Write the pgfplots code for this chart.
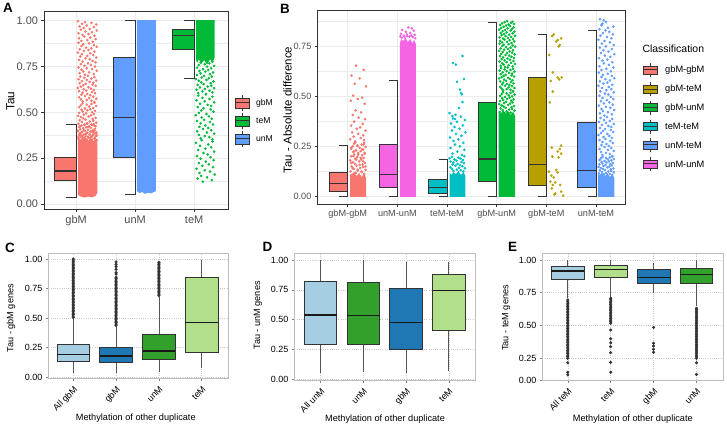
\documentclass[border=0pt]{standalone}
\usepackage{fontspec}
\setmainfont{Liberation Sans}
\usepackage{pgfplots}
\pgfplotsset{compat=1.18}
\definecolor{grey20}{HTML}{333333}
\definecolor{grey30}{HTML}{4D4D4D}
\definecolor{grey92}{HTML}{EBEBEB}
\definecolor{cRed}{HTML}{F8766D}
\definecolor{cOlive}{HTML}{B79F00}
\definecolor{cGreen}{HTML}{00BA38}
\definecolor{cCyan}{HTML}{00BFC4}
\definecolor{cBlue}{HTML}{619CFF}
\definecolor{cPink}{HTML}{F564E3}
\definecolor{pLB}{HTML}{A6CEE3}
\definecolor{pDB}{HTML}{1F78B4}
\definecolor{pLG}{HTML}{B2DF8A}
\definecolor{pDG}{HTML}{33A02C}
\definecolor{frameC}{HTML}{BDBDBD}
\definecolor{gridC}{HTML}{C8C8C8}
\definecolor{whisC}{HTML}{555555}
\definecolor{outC}{HTML}{333333}
\pgfplotsset{
 ggA/.style={scale only axis, anchor=south west,
   ymajorgrids, xmajorgrids, yminorgrids,
   major grid style={grey92, line width=0.55bp},
   minor grid style={grey92, line width=0.3bp},
   axis line style={grey20, line width=0.6bp},
   xtick pos=bottom, ytick pos=left, tick align=outside,
   major tick length=2.8bp, minor tick length=0bp,
   major tick style={grey20, line width=0.5bp},
   minor tick style={draw=none},
   ylabel style={anchor=center},
   /pgf/number format/assume math mode=true},
 ggC/.style={scale only axis, anchor=south west,
   ymajorgrids, xmajorgrids,
   major grid style={gridC, line width=0.5bp, dash pattern=on 0.6bp off 1.6bp},
   axis line style={frameC, line width=0.8bp},
   xtick pos=bottom, ytick pos=left, tick align=outside, major tick length=2.5bp,
   major tick style={frameC!70!black, line width=0.5bp},
   tick label style={font=\fontsize{9}{10}\selectfont, text=black},
   xticklabel style={rotate=45, anchor=north east},
   label style={font=\fontsize{9.2}{10}\selectfont},
   ylabel style={anchor=center},
   xlabel style={anchor=center},
   xtick={1,2,3,4},
   ytick={0,0.25,0.5,0.75,1}, yticklabels={0.00,0.25,0.50,0.75,1.00},
   xlabel={Methylation of other duplicate},
   /pgf/number format/assume math mode=true},
 jit/.style={only marks, mark=*, mark size=1.1bp, #1, mark options={draw=none}},
 outl/.style={only marks, mark=*, mark size=1.35bp, outC, mark options={draw=none}},
 boxA/.style={fill=#1, draw=grey20, line width=0.6bp},
 medA/.style={grey20, line width=1.3bp},
 whA/.style={grey20, line width=0.6bp},
 boxC/.style={fill=#1, draw=grey20, line width=0.6bp},
 medC/.style={black!90, line width=1.2bp},
 whC/.style={whisC, line width=0.7bp},
}
\newcommand{\legkey}[4]{%
  \draw[grey20, line width=0.5bp] ({#1bp+7bp},{#2bp-#4bp-3bp}) -- ({#1bp+7bp},{#2bp+#4bp+3bp});
  \filldraw[fill=#3, draw=grey20, line width=0.5bp] (#1bp,{#2bp-#4bp}) rectangle ({#1bp+14bp},{#2bp+#4bp});
  \draw[grey20, line width=1bp] (#1bp,#2bp) -- ({#1bp+14bp},#2bp);
}
\begin{document}
\begin{tikzpicture}
\useasboundingbox (0,0) rectangle (727bp,426bp);
% ================= A =================
\begin{axis}[ggA, at={(44.3bp,216.7bp)}, width=184bp, height=197.6bp,
  xmin=0.46, xmax=3.58, ymin=-0.029, ymax=1.049,
  xtick={1,2,3}, xticklabels={gbM,unM,teM},
  ytick={0,0.25,0.5,0.75,1}, yticklabels={0.00,0.25,0.50,0.75,1.00},
  minor ytick={0.125,0.375,0.625,0.875},
  tick label style={font=\fontsize{11}{12}\selectfont, text=grey30},
  ylabel={Tau}, ylabel style={font=\fontsize{11.8}{13}\selectfont, at={(axis description cs:-0.184,0.548)}}]
% gbM
\addplot[whA] coordinates {(0.83,0.435)(1,0.435)(1,0.035)(0.83,0.035)};
\addplot[boxA=cRed] coordinates {(0.63,0.13)(1,0.13)(1,0.255)(0.63,0.255)} -- cycle;
\addplot[medA] coordinates {(0.63,0.18)(1,0.18)};
\addplot[fill=cRed, draw=none] coordinates {(1.03,0.05)(1.08,0.04)(1.14,0.035)(1.20,0.04)(1.27,0.036)(1.33,0.045)(1.36,0.06)(1.36,0.33)(1.33,0.355)(1.29,0.34)(1.24,0.36)(1.19,0.335)(1.14,0.365)(1.09,0.345)(1.05,0.355)(1.03,0.33)} -- cycle;
\addplot[jit=cRed] coordinates {
(1.28,0.340)(1.09,0.343)(1.19,0.345)(1.33,0.348)(1.05,0.350)(1.24,0.353)(1.14,0.355)(1.31,0.358)(1.11,0.360)(1.21,0.363)
(1.04,0.365)(1.27,0.368)(1.16,0.370)(1.35,0.373)(1.08,0.375)(1.23,0.378)(1.13,0.380)(1.30,0.383)(1.06,0.385)(1.18,0.388)
(1.34,0.390)(1.10,0.393)(1.26,0.395)(1.15,0.398)(1.03,0.400)(1.29,0.403)(1.20,0.405)(1.07,0.408)(1.32,0.410)(1.12,0.413)
(1.25,0.415)(1.17,0.418)(1.05,0.420)(1.22,0.423)(1.33,0.425)(1.09,0.428)(1.27,0.430)(1.14,0.433)(1.30,0.435)(1.19,0.438)
(1.15,0.335)(1.30,0.337)(1.06,0.340)(1.22,0.342)(1.12,0.344)(1.35,0.347)(1.09,0.349)(1.27,0.351)(1.18,0.353)(1.04,0.356)
(1.32,0.358)(1.14,0.360)(1.25,0.363)(1.08,0.365)(1.20,0.367)(1.33,0.370)(1.11,0.372)(1.28,0.374)(1.05,0.376)(1.23,0.379)
(1.16,0.381)(1.34,0.383)(1.07,0.386)(1.19,0.388)(1.29,0.390)(1.10,0.393)(1.24,0.395)(1.03,0.397)(1.31,0.399)(1.13,0.402)
(1.20,0.420)(1.07,0.424)(1.31,0.427)(1.14,0.431)(1.26,0.433)(1.04,0.437)(1.18,0.441)(1.34,0.443)(1.10,0.447)(1.23,0.450)
(1.29,0.454)(1.06,0.457)(1.16,0.460)(1.28,0.464)(1.12,0.467)(1.33,0.470)(1.08,0.474)(1.21,0.477)(1.03,0.480)(1.25,0.484)
(1.13,0.487)(1.30,0.490)(1.17,0.494)(1.05,0.497)(1.27,0.500)(1.11,0.504)(1.32,0.507)(1.19,0.511)(1.09,0.514)(1.24,0.517)
(1.15,0.521)(1.29,0.524)(1.05,0.528)(1.22,0.531)(1.34,0.535)(1.08,0.538)(1.18,0.542)(1.26,0.545)(1.11,0.549)(1.31,0.552)
(1.31,0.556)(1.11,0.560)(1.26,0.563)(1.18,0.567)(1.08,0.571)(1.34,0.574)(1.22,0.578)(1.05,0.582)(1.29,0.585)(1.15,0.589)
(1.24,0.593)(1.09,0.596)(1.19,0.600)(1.32,0.604)(1.11,0.607)(1.27,0.611)(1.05,0.615)(1.17,0.618)(1.30,0.622)(1.13,0.626)
(1.25,0.629)(1.03,0.633)(1.21,0.637)(1.08,0.640)(1.33,0.644)(1.12,0.648)(1.28,0.651)(1.16,0.655)(1.06,0.659)(1.29,0.662)
(1.23,0.666)(1.10,0.670)(1.34,0.673)(1.18,0.677)(1.04,0.681)(1.26,0.684)(1.14,0.688)(1.31,0.692)(1.07,0.695)(1.20,0.699)
(1.15,0.705)(1.30,0.709)(1.06,0.714)(1.22,0.718)(1.12,0.723)(1.35,0.727)(1.09,0.732)(1.27,0.736)(1.18,0.741)(1.04,0.745)
(1.32,0.750)(1.14,0.754)(1.25,0.759)(1.08,0.763)(1.20,0.768)(1.33,0.772)(1.11,0.777)(1.28,0.781)(1.05,0.786)(1.23,0.790)
(1.16,0.795)(1.34,0.799)(1.07,0.804)(1.19,0.808)(1.29,0.813)(1.10,0.817)(1.24,0.822)(1.03,0.826)(1.31,0.831)(1.13,0.835)
(1.21,0.840)(1.06,0.844)(1.26,0.849)(1.17,0.853)(1.35,0.858)(1.09,0.862)(1.30,0.867)(1.12,0.871)(1.22,0.876)(1.04,0.880)
(1.28,0.885)(1.09,0.890)(1.19,0.894)(1.33,0.899)(1.05,0.904)(1.24,0.908)(1.14,0.913)(1.31,0.918)(1.11,0.922)(1.21,0.927)
(1.04,0.932)(1.27,0.937)(1.16,0.941)(1.35,0.946)(1.08,0.951)(1.23,0.955)(1.13,0.960)(1.30,0.965)(1.06,0.969)(1.18,0.974)
(1.34,0.979)(1.10,0.983)(1.26,0.988)(1.15,0.993)(1.03,0.997)};
% unM
\addplot[whA] coordinates {(1.83,1.0)(2,1.0)(2,0.055)(1.83,0.055)};
\addplot[boxA=cBlue] coordinates {(1.63,0.255)(2,0.255)(2,0.80)(1.63,0.80)} -- cycle;
\addplot[medA] coordinates {(1.63,0.47)(2,0.47)};
\addplot[fill=cBlue, draw=none] coordinates {(2.03,0.07)(2.07,0.06)(2.12,0.065)(2.17,0.055)(2.22,0.062)(2.27,0.058)(2.32,0.066)(2.35,0.07)(2.35,1.003)(2.03,1.003)} -- cycle;
% teM
\addplot[whA] coordinates {(2.83,1.0)(3,1.0)(3,0.685)(2.83,0.685)};
\addplot[boxA=cGreen] coordinates {(2.63,0.845)(3,0.845)(3,0.955)(2.63,0.955)} -- cycle;
\addplot[medA] coordinates {(2.63,0.92)(3,0.92)};
\addplot[fill=cGreen, draw=none] coordinates {(3.03,1.003)(3.35,1.003)(3.35,0.80)(3.31,0.77)(3.27,0.79)(3.22,0.76)(3.17,0.785)(3.12,0.765)(3.08,0.79)(3.05,0.77)(3.03,0.79)} -- cycle;
\addplot[jit=cGreen] coordinates {
(3.20,0.600)(3.07,0.605)(3.31,0.609)(3.14,0.614)(3.26,0.618)(3.04,0.623)(3.18,0.627)(3.34,0.632)(3.10,0.636)(3.23,0.641)
(3.29,0.645)(3.06,0.650)(3.16,0.654)(3.28,0.659)(3.12,0.663)(3.33,0.668)(3.08,0.672)(3.21,0.677)(3.03,0.681)(3.25,0.686)
(3.13,0.690)(3.30,0.695)(3.17,0.699)(3.05,0.704)(3.27,0.708)(3.11,0.713)(3.32,0.717)(3.19,0.722)(3.09,0.726)(3.24,0.731)
(3.15,0.735)(3.29,0.740)(3.05,0.744)(3.22,0.749)(3.34,0.753)(3.08,0.758)(3.18,0.762)(3.26,0.767)(3.11,0.771)(3.31,0.776)
(3.31,0.352)(3.11,0.358)(3.26,0.365)(3.18,0.371)(3.08,0.377)(3.34,0.384)(3.22,0.390)(3.05,0.396)(3.29,0.402)(3.15,0.409)
(3.24,0.415)(3.09,0.421)(3.19,0.428)(3.32,0.434)(3.11,0.440)(3.27,0.447)(3.05,0.453)(3.17,0.459)(3.30,0.465)(3.13,0.472)
(3.25,0.478)(3.03,0.484)(3.21,0.491)(3.08,0.497)(3.33,0.503)(3.12,0.510)(3.28,0.516)(3.16,0.522)(3.06,0.529)(3.29,0.535)
(3.23,0.541)(3.10,0.547)(3.34,0.554)(3.18,0.560)(3.04,0.566)(3.26,0.573)(3.14,0.579)(3.31,0.585)(3.07,0.592)(3.20,0.598)
(3.15,0.122)(3.30,0.130)(3.06,0.138)(3.22,0.145)(3.12,0.153)(3.35,0.161)(3.09,0.169)(3.27,0.177)(3.18,0.184)(3.04,0.192)
(3.32,0.200)(3.14,0.208)(3.25,0.216)(3.08,0.223)(3.20,0.231)(3.33,0.239)(3.11,0.247)(3.28,0.255)(3.05,0.262)(3.23,0.270)
(3.16,0.278)(3.34,0.286)(3.07,0.294)(3.19,0.302)(3.29,0.309)(3.10,0.317)(3.24,0.325)(3.03,0.333)(3.31,0.341)(3.13,0.348)};
\end{axis}
% ================= B =================
\begin{axis}[ggA, at={(317.7bp,222bp)}, width=307.3bp, height=194bp,
  xmin=0.395, xmax=6.585, ymin=-0.04, ymax=0.93,
  xtick={1,2,3,4,5,6}, xticklabels={gbM-gbM,unM-unM,teM-teM,gbM-unM,gbM-teM,unM-teM},
  ytick={0,0.25,0.5,0.75}, yticklabels={0.00,0.25,0.50,0.75},
  minor ytick={0.125,0.375,0.625,0.875},
  tick label style={font=\fontsize{9.2}{10}\selectfont, text=grey30},
  ylabel={Tau - Absolute difference}, ylabel style={font=\fontsize{11.5}{13}\selectfont, at={(axis description cs:-0.098,0.485)}}]
% 1 gbM-gbM
\addplot[whA] coordinates {(0.83,0.255)(1,0.255)(1,0)(0.83,0)};
\addplot[boxA=cRed] coordinates {(0.63,0.025)(1,0.025)(1,0.117)(0.63,0.117)} -- cycle;
\addplot[medA] coordinates {(0.63,0.063)(1,0.063)};
\addplot[fill=cRed, draw=none] coordinates {(1.05,-0.004)(1.37,-0.004)(1.37,0.09)(1.33,0.11)(1.28,0.095)(1.23,0.115)(1.18,0.10)(1.13,0.12)(1.09,0.10)(1.05,0.11)} -- cycle;
\addplot[jit=cRed] coordinates {
(1.22,0.102)(1.09,0.106)(1.33,0.110)(1.16,0.115)(1.28,0.119)(1.06,0.123)(1.20,0.127)(1.36,0.131)(1.12,0.136)(1.25,0.140)
(1.31,0.144)(1.08,0.148)(1.18,0.152)(1.30,0.157)(1.14,0.161)(1.35,0.165)(1.10,0.169)(1.23,0.173)(1.05,0.178)(1.27,0.182)
(1.15,0.186)(1.32,0.190)(1.19,0.194)(1.07,0.199)(1.29,0.203)(1.13,0.207)(1.34,0.211)(1.21,0.215)(1.11,0.220)(1.26,0.224)
(1.17,0.228)(1.31,0.232)(1.07,0.236)(1.24,0.241)(1.36,0.245)(1.10,0.249)(1.20,0.253)(1.28,0.257)(1.13,0.262)(1.33,0.266)
(1.33,0.105)(1.13,0.114)(1.28,0.122)(1.20,0.131)(1.10,0.139)(1.36,0.148)(1.24,0.156)(1.07,0.165)(1.31,0.173)(1.17,0.182)
(1.26,0.190)(1.11,0.199)(1.21,0.207)(1.34,0.216)(1.13,0.224)(1.29,0.233)(1.07,0.241)(1.19,0.250)(1.32,0.258)(1.15,0.267)
(1.17,0.652)(1.32,0.631)(1.08,0.602)(1.24,0.588)(1.14,0.561)(1.37,0.548)(1.11,0.502)(1.29,0.492)(1.20,0.485)(1.06,0.476)
(1.34,0.461)(1.16,0.428)(1.27,0.418)(1.10,0.405)(1.22,0.392)(1.35,0.384)(1.13,0.372)(1.30,0.361)(1.07,0.352)(1.25,0.343)
(1.18,0.336)(1.36,0.327)(1.09,0.318)(1.21,0.311)(1.31,0.303)(1.12,0.297)(1.26,0.290)(1.05,0.284)(1.33,0.279)(1.15,0.273)};
% 2 unM-unM
\addplot[whA] coordinates {(1.83,0.578)(2,0.578)(2,0)(1.83,0)};
\addplot[boxA=cPink] coordinates {(1.63,0.042)(2,0.042)(2,0.258)(1.63,0.258)} -- cycle;
\addplot[medA] coordinates {(1.63,0.108)(2,0.108)};
\addplot[fill=cPink, draw=none] coordinates {(2.05,-0.004)(2.37,-0.004)(2.37,0.76)(2.34,0.78)(2.30,0.765)(2.26,0.785)(2.21,0.77)(2.16,0.79)(2.12,0.775)(2.08,0.785)(2.05,0.765)} -- cycle;
\addplot[jit=cPink] coordinates {(2.22,0.843)(2.29,0.838)(2.10,0.830)(2.33,0.826)(2.17,0.821)(2.26,0.815)(2.07,0.811)(2.35,0.806)(2.13,0.802)(2.20,0.799)(2.31,0.795)(2.09,0.792)(2.24,0.797)(2.36,0.789)(2.15,0.793)(2.28,0.802)(2.06,0.798)(2.19,0.808)};
% 3 teM-teM
\addplot[whA] coordinates {(2.83,0.183)(3,0.183)(3,0)(2.83,0)};
\addplot[boxA=cCyan] coordinates {(2.63,0.013)(3,0.013)(3,0.085)(2.63,0.085)} -- cycle;
\addplot[medA] coordinates {(2.63,0.042)(3,0.042)};
\addplot[fill=cCyan, draw=none] coordinates {(3.05,-0.004)(3.37,-0.004)(3.37,0.10)(3.33,0.12)(3.28,0.105)(3.23,0.125)(3.18,0.11)(3.13,0.12)(3.09,0.105)(3.05,0.115)} -- cycle;
\addplot[jit=cCyan] coordinates {
(3.33,0.122)(3.13,0.125)(3.28,0.128)(3.20,0.132)(3.10,0.135)(3.36,0.138)(3.24,0.141)(3.07,0.144)(3.31,0.148)(3.17,0.151)
(3.26,0.154)(3.11,0.157)(3.21,0.160)(3.34,0.164)(3.13,0.167)(3.29,0.170)(3.07,0.173)(3.19,0.176)(3.32,0.180)(3.15,0.183)
(3.27,0.186)(3.05,0.189)(3.23,0.192)(3.10,0.196)(3.35,0.199)
(3.30,0.205)(3.11,0.213)(3.21,0.222)(3.35,0.231)(3.07,0.240)(3.26,0.248)(3.16,0.257)(3.33,0.266)(3.13,0.275)(3.23,0.283)
(3.06,0.292)(3.29,0.301)(3.18,0.310)(3.37,0.318)(3.10,0.327)(3.25,0.336)(3.15,0.345)(3.32,0.353)(3.08,0.362)(3.20,0.371)
(3.36,0.380)(3.12,0.388)(3.28,0.397)(3.17,0.406)(3.05,0.415)
(3.31,0.700)(3.12,0.665)(3.18,0.657)(3.34,0.585)(3.20,0.571)(3.26,0.532)(3.28,0.515)(3.30,0.508)(3.31,0.470)(3.11,0.400)(3.16,0.385)(3.24,0.440)};
% 4 gbM-unM
\addplot[whA] coordinates {(3.83,0.87)(4,0.87)(4,0)(3.83,0)};
\addplot[boxA=cGreen] coordinates {(3.63,0.072)(4,0.072)(4,0.468)(3.63,0.468)} -- cycle;
\addplot[medA] coordinates {(3.63,0.185)(4,0.185)};
\addplot[fill=cGreen, draw=none] coordinates {(4.04,-0.004)(4.37,-0.004)(4.37,0.40)(4.33,0.42)(4.28,0.405)(4.23,0.425)(4.18,0.41)(4.13,0.43)(4.08,0.41)(4.04,0.42)} -- cycle;
\addplot[jit=cGreen] coordinates {
(4.22,0.405)(4.09,0.408)(4.33,0.411)(4.16,0.414)(4.28,0.417)(4.06,0.420)(4.20,0.423)(4.36,0.426)(4.12,0.429)(4.25,0.432)
(4.31,0.435)(4.08,0.438)(4.18,0.441)(4.30,0.444)(4.14,0.447)(4.35,0.450)(4.10,0.453)(4.23,0.456)(4.05,0.459)(4.27,0.462)
(4.15,0.465)(4.32,0.468)(4.19,0.471)(4.07,0.474)(4.29,0.477)(4.13,0.480)(4.34,0.483)(4.21,0.486)(4.11,0.489)(4.26,0.492)
(4.17,0.495)(4.31,0.498)(4.07,0.501)(4.24,0.504)(4.36,0.507)(4.10,0.510)(4.20,0.513)(4.28,0.516)(4.13,0.519)(4.33,0.522)
(4.33,0.525)(4.13,0.528)(4.28,0.531)(4.20,0.534)(4.10,0.537)(4.36,0.540)(4.24,0.543)(4.07,0.546)(4.31,0.549)(4.17,0.552)
(4.26,0.555)(4.11,0.558)(4.21,0.561)(4.34,0.564)(4.13,0.567)(4.29,0.570)(4.07,0.573)(4.19,0.576)(4.32,0.579)(4.15,0.582)
(4.27,0.585)(4.05,0.588)(4.23,0.591)(4.10,0.594)(4.35,0.597)(4.14,0.600)(4.30,0.603)(4.18,0.606)(4.08,0.609)(4.31,0.612)
(4.25,0.615)(4.12,0.618)(4.36,0.621)(4.20,0.624)(4.06,0.627)(4.28,0.630)(4.16,0.633)(4.33,0.636)(4.09,0.639)(4.22,0.642)
(4.17,0.645)(4.32,0.648)(4.08,0.651)(4.24,0.654)(4.14,0.657)(4.37,0.660)(4.11,0.663)(4.29,0.666)(4.20,0.669)(4.06,0.672)
(4.34,0.675)(4.16,0.678)(4.27,0.681)(4.10,0.684)(4.22,0.687)(4.35,0.690)(4.13,0.693)(4.30,0.696)(4.07,0.699)(4.25,0.702)
(4.18,0.705)(4.36,0.708)(4.09,0.711)(4.21,0.714)(4.31,0.717)(4.12,0.720)(4.26,0.723)(4.05,0.726)(4.33,0.729)(4.15,0.732)
(4.23,0.735)(4.08,0.738)(4.28,0.741)(4.19,0.744)(4.37,0.747)(4.11,0.750)(4.32,0.753)(4.14,0.756)(4.24,0.759)(4.06,0.762)
(4.30,0.765)(4.11,0.768)(4.21,0.771)(4.35,0.773)(4.07,0.776)(4.26,0.779)(4.16,0.782)(4.33,0.785)(4.13,0.787)(4.23,0.790)
(4.06,0.793)(4.29,0.796)(4.18,0.799)(4.37,0.801)(4.10,0.804)(4.25,0.807)(4.15,0.810)(4.32,0.813)(4.08,0.815)(4.20,0.818)
(4.36,0.821)(4.12,0.824)(4.28,0.827)(4.17,0.829)(4.05,0.832)(4.31,0.835)(4.22,0.838)(4.09,0.841)(4.34,0.843)(4.14,0.846)
(4.27,0.849)(4.19,0.852)(4.07,0.855)(4.24,0.857)(4.35,0.860)(4.11,0.863)(4.29,0.866)(4.16,0.869)(4.32,0.871)(4.21,0.874)};
% 5 gbM-teM
\addplot[whA] coordinates {(4.83,0.81)(5,0.81)(5,0)(4.83,0)};
\addplot[boxA=cOlive] coordinates {(4.63,0.055)(5,0.055)(5,0.592)(4.63,0.592)} -- cycle;
\addplot[medA] coordinates {(4.63,0.158)(5,0.158)};
\addplot[jit=cOlive] coordinates {(5.15,0.808)(5.12,0.800)(5.23,0.780)(5.30,0.788)(5.20,0.772)(5.27,0.755)(5.25,0.748)(5.06,0.705)(5.13,0.618)(5.09,0.575)(5.23,0.592)(5.26,0.583)(5.31,0.593)(5.13,0.522)(5.07,0.468)(5.30,0.252)(5.11,0.242)(5.27,0.235)(5.23,0.222)(5.30,0.212)(5.12,0.197)(5.25,0.192)(5.05,0.122)(5.20,0.130)(5.23,0.118)(5.10,0.102)(5.15,0.092)(5.08,0.072)(5.18,0.068)(5.13,0.055)(5.11,0.038)(5.28,0.055)(5.30,0.022)(5.18,0.013)(5.34,0.002)(5.16,0.008)};
% 6 unM-teM
\addplot[whA] coordinates {(5.83,0.83)(6,0.83)(6,0)(5.83,0)};
\addplot[boxA=cBlue] coordinates {(5.63,0.045)(6,0.045)(6,0.368)(5.63,0.368)} -- cycle;
\addplot[medA] coordinates {(5.63,0.127)(6,0.127)};
\addplot[fill=cBlue, draw=none] coordinates {(6.04,-0.004)(6.37,-0.004)(6.37,0.09)(6.33,0.11)(6.28,0.095)(6.23,0.115)(6.18,0.10)(6.13,0.12)(6.08,0.10)(6.04,0.11)} -- cycle;
\addplot[jit=cBlue] coordinates {
(6.22,0.100)(6.09,0.103)(6.33,0.105)(6.16,0.108)(6.28,0.110)(6.06,0.113)(6.20,0.115)(6.36,0.118)(6.12,0.120)(6.25,0.123)
(6.31,0.125)(6.08,0.128)(6.18,0.130)(6.30,0.133)(6.14,0.135)(6.35,0.138)(6.10,0.140)(6.23,0.143)(6.05,0.145)(6.27,0.148)
(6.15,0.150)(6.32,0.153)(6.19,0.155)(6.07,0.158)(6.29,0.160)(6.13,0.163)(6.34,0.165)(6.21,0.168)(6.11,0.170)(6.26,0.173)
(6.17,0.175)(6.31,0.178)(6.07,0.180)(6.24,0.183)(6.36,0.185)(6.10,0.188)(6.20,0.190)(6.28,0.193)(6.13,0.195)(6.33,0.198)
(6.33,0.200)(6.13,0.205)(6.28,0.210)(6.20,0.215)(6.10,0.220)(6.36,0.225)(6.24,0.230)(6.07,0.235)(6.31,0.240)(6.17,0.245)
(6.26,0.250)(6.11,0.255)(6.21,0.260)(6.34,0.265)(6.13,0.270)(6.29,0.275)(6.07,0.280)(6.19,0.285)(6.32,0.290)(6.15,0.295)
(6.27,0.300)(6.05,0.305)(6.23,0.310)(6.10,0.315)(6.35,0.320)(6.14,0.325)(6.30,0.330)(6.18,0.335)(6.08,0.340)(6.31,0.345)
(6.25,0.350)(6.12,0.355)(6.36,0.360)(6.20,0.365)(6.06,0.370)(6.28,0.375)(6.16,0.380)(6.33,0.385)(6.09,0.390)(6.22,0.395)
(6.17,0.402)(6.32,0.408)(6.08,0.413)(6.24,0.419)(6.14,0.424)(6.37,0.430)(6.11,0.435)(6.29,0.441)(6.20,0.446)(6.06,0.452)
(6.34,0.457)(6.16,0.463)(6.27,0.468)(6.10,0.474)(6.22,0.479)(6.35,0.485)(6.13,0.490)(6.30,0.496)(6.07,0.501)(6.25,0.507)
(6.18,0.512)(6.36,0.518)(6.09,0.523)(6.21,0.529)(6.31,0.534)(6.12,0.540)(6.26,0.545)(6.05,0.551)(6.33,0.556)(6.15,0.562)
(6.23,0.567)(6.08,0.573)(6.28,0.578)(6.19,0.584)(6.37,0.589)(6.11,0.595)(6.32,0.600)(6.14,0.606)(6.24,0.611)(6.06,0.617)
(6.30,0.623)(6.11,0.630)(6.21,0.636)(6.35,0.643)(6.07,0.649)(6.26,0.656)(6.16,0.663)(6.33,0.669)(6.13,0.676)(6.23,0.682)
(6.06,0.689)(6.29,0.696)(6.18,0.702)(6.37,0.709)(6.10,0.715)(6.25,0.722)(6.15,0.729)(6.32,0.735)(6.08,0.742)(6.20,0.748)
(6.36,0.755)(6.12,0.762)(6.28,0.768)(6.17,0.775)(6.05,0.781)(6.31,0.788)(6.22,0.795)(6.09,0.801)(6.34,0.808)(6.14,0.814)
(6.27,0.821)(6.19,0.828)(6.07,0.834)(6.24,0.841)(6.35,0.847)(6.11,0.854)(6.13,0.862)(6.20,0.870)(6.16,0.878)(6.08,0.884)};
\end{axis}
% ================= C =================
\begin{axis}[ggC, at={(48.3bp,47.7bp)}, width=180bp, height=125bp,
  xmin=0.418, xmax=4.62, ymin=-0.0085, ymax=1.048,
  xticklabels={All gbM,gbM,unM,teM},
  ylabel={Tau - gbM genes},
  ylabel style={at={(axis description cs:-0.207,0.481)}},
  xlabel style={at={(axis description cs:0.486,-0.317)}}]
\addplot[whC] coordinates {(1,0.034)(1,0.497)};
\addplot[boxC=pLB] coordinates {(0.62,0.137)(1.38,0.137)(1.38,0.283)(0.62,0.283)} -- cycle;
\addplot[medC] coordinates {(0.62,0.196)(1.38,0.196)};
\addplot[outl] coordinates {(1,0.505)(1,0.517)(1,0.530)(1,0.542)(1,0.555)(1,0.567)(1,0.580)(1,0.592)(1,0.605)(1,0.617)(1,0.630)(1,0.642)(1,0.655)(1,0.667)(1,0.680)(1,0.692)(1,0.705)(1,0.717)(1,0.730)(1,0.742)(1,0.755)(1,0.767)(1,0.780)(1,0.792)(1,0.805)(1,0.817)(1,0.830)(1,0.842)(1,0.855)(1,0.867)(1,0.880)(1,0.892)(1,0.905)(1,0.917)(1,0.930)(1,0.942)(1,0.955)(1,0.967)(1,0.980)(1,0.992)(1,0.999)};
\addplot[whC] coordinates {(2,0.034)(2,0.426)};
\addplot[boxC=pDB] coordinates {(1.62,0.126)(2.38,0.126)(2.38,0.25)(1.62,0.25)} -- cycle;
\addplot[medC] coordinates {(1.62,0.18)(2.38,0.18)};
\addplot[outl] coordinates {(2,0.438)(2,0.450)(2,0.462)(2,0.474)(2,0.486)(2,0.498)(2,0.510)(2,0.522)(2,0.534)(2,0.546)(2,0.558)(2,0.570)(2,0.582)(2,0.594)(2,0.606)(2,0.618)(2,0.630)(2,0.642)(2,0.654)(2,0.666)(2,0.678)(2,0.690)(2,0.702)(2,0.714)(2,0.726)(2,0.738)(2,0.750)(2,0.762)(2,0.774)(2,0.786)(2,0.798)(2,0.810)(2,0.822)(2,0.834)(2,0.846)(2,0.872)(2,0.885)(2,0.912)(2,0.935)(2,0.955)(2,0.975)};
\addplot[whC] coordinates {(3,0.047)(3,0.68)};
\addplot[boxC=pDG] coordinates {(2.62,0.152)(3.38,0.152)(3.38,0.362)(2.62,0.362)} -- cycle;
\addplot[medC] coordinates {(2.62,0.222)(3.38,0.222)};
\addplot[outl] coordinates {(3,0.690)(3,0.702)(3,0.714)(3,0.726)(3,0.738)(3,0.750)(3,0.762)(3,0.774)(3,0.786)(3,0.798)(3,0.810)(3,0.822)(3,0.834)(3,0.846)(3,0.858)(3,0.870)(3,0.882)(3,0.894)(3,0.906)(3,0.918)(3,0.930)(3,0.942)(3,0.954)(3,0.966)(3,0.972)};
\addplot[whC] coordinates {(4,0.076)(4,0.988)};
\addplot[boxC=pLG] coordinates {(3.62,0.21)(4.38,0.21)(4.38,0.842)(3.62,0.842)} -- cycle;
\addplot[medC] coordinates {(3.62,0.46)(4.38,0.46)};
\end{axis}
% ================= D =================
\begin{axis}[ggC, at={(294.3bp,46bp)}, width=180.7bp, height=126.7bp,
  xmin=0.388, xmax=4.612, ymin=-0.006, ymax=1.056,
  xticklabels={All unM,unM,gbM,teM},
  ylabel={Tau - unM genes},
  ylabel style={at={(axis description cs:-0.201,0.51)}},
  xlabel style={at={(axis description cs:0.502,-0.31)}}]
\addplot[whC] coordinates {(1,0.05)(1,1.0)};
\addplot[boxC=pLB] coordinates {(0.62,0.296)(1.38,0.296)(1.38,0.818)(0.62,0.818)} -- cycle;
\addplot[medC] coordinates {(0.62,0.539)(1.38,0.539)};
\addplot[whC] coordinates {(2,0.064)(2,1.0)};
\addplot[boxC=pDG] coordinates {(1.62,0.296)(2.38,0.296)(2.38,0.812)(1.62,0.812)} -- cycle;
\addplot[medC] coordinates {(1.62,0.533)(2.38,0.533)};
\addplot[whC] coordinates {(3,0.05)(3,0.98)};
\addplot[boxC=pDB] coordinates {(2.62,0.251)(3.38,0.251)(3.38,0.762)(2.62,0.762)} -- cycle;
\addplot[medC] coordinates {(2.62,0.474)(3.38,0.474)};
\addplot[whC] coordinates {(4,0.07)(4,0.98)};
\addplot[boxC=pLG] coordinates {(3.62,0.407)(4.38,0.407)(4.38,0.88)(3.62,0.88)} -- cycle;
\addplot[medC] coordinates {(3.62,0.743)(4.38,0.743)};
\end{axis}
% ================= E =================
\begin{axis}[ggC, at={(542.3bp,46bp)}, width=181bp, height=126.7bp,
  xmin=0.406, xmax=4.625, ymin=0.082, ymax=1.051,
  ytick={0.082,0.25,0.5,0.75,1}, yticklabels={0.00,0.25,0.50,0.75,1.00},
  xticklabels={All teM,teM,gbM,unM},
  ylabel={Tau - teM genes},
  ylabel style={at={(axis description cs:-0.20,0.49)}},
  xlabel style={at={(axis description cs:0.5,-0.308)}}]
\addplot[whC] coordinates {(1,0.707)(1,1.0)};
\addplot[boxC=pLB] coordinates {(0.62,0.849)(1.38,0.849)(1.38,0.952)(0.62,0.952)} -- cycle;
\addplot[medC] coordinates {(0.62,0.916)(1.38,0.916)};
\addplot[outl] coordinates {(1,0.248)(1,0.260)(1,0.272)(1,0.284)(1,0.296)(1,0.308)(1,0.320)(1,0.332)(1,0.344)(1,0.356)(1,0.368)(1,0.380)(1,0.392)(1,0.404)(1,0.416)(1,0.428)(1,0.440)(1,0.452)(1,0.464)(1,0.476)(1,0.488)(1,0.500)(1,0.512)(1,0.524)(1,0.536)(1,0.548)(1,0.560)(1,0.572)(1,0.584)(1,0.596)(1,0.608)(1,0.620)(1,0.632)(1,0.644)(1,0.656)(1,0.668)(1,0.680)(1,0.694)(1,0.214)(1,0.141)(1,0.121)};
\addplot[whC] coordinates {(2,0.72)(2,1.0)};
\addplot[boxC=pLG] coordinates {(1.62,0.865)(2.38,0.865)(2.38,0.962)(1.62,0.962)} -- cycle;
\addplot[medC] coordinates {(1.62,0.926)(2.38,0.926)};
\addplot[outl] coordinates {(2,0.516)(2,0.528)(2,0.540)(2,0.552)(2,0.564)(2,0.576)(2,0.588)(2,0.600)(2,0.612)(2,0.624)(2,0.636)(2,0.648)(2,0.660)(2,0.672)(2,0.684)(2,0.696)(2,0.707)(2,0.464)(2,0.398)(2,0.367)(2,0.337)(2,0.291)(2,0.217)(2,0.141)};
\addplot[whC] coordinates {(3,0.75)(3,0.975)};
\addplot[boxC=pDB] coordinates {(2.62,0.82)(3.38,0.82)(3.38,0.929)(2.62,0.929)} -- cycle;
\addplot[medC] coordinates {(2.62,0.865)(3.38,0.865)};
\addplot[outl] coordinates {(3,0.485)(3,0.363)(3,0.342)(3,0.317)(3,0.294)};
\addplot[whC] coordinates {(4,0.648)(4,1.0)};
\addplot[boxC=pDG] coordinates {(3.62,0.82)(4.38,0.82)(4.38,0.934)(3.62,0.934)} -- cycle;
\addplot[medC] coordinates {(3.62,0.891)(4.38,0.891)};
\addplot[outl] coordinates {(4,0.248)(4,0.260)(4,0.272)(4,0.284)(4,0.296)(4,0.308)(4,0.320)(4,0.332)(4,0.344)(4,0.356)(4,0.368)(4,0.380)(4,0.392)(4,0.404)(4,0.416)(4,0.428)(4,0.440)(4,0.452)(4,0.464)(4,0.476)(4,0.488)(4,0.500)(4,0.512)(4,0.524)(4,0.536)(4,0.548)(4,0.560)(4,0.572)(4,0.584)(4,0.596)(4,0.608)(4,0.620)(4,0.630)(4,0.214)(4,0.125)};
\end{axis}
% ================= legends & panel letters =================
\legkey{235.5}{323}{cRed}{5}
\legkey{235.5}{305}{cGreen}{5}
\legkey{235.5}{287}{cBlue}{5}
\node[anchor=west, inner sep=0pt, font=\fontsize{8.6}{10}\selectfont] at (256bp,323bp) {gbM};
\node[anchor=west, inner sep=0pt, font=\fontsize{8.6}{10}\selectfont] at (256bp,305bp) {teM};
\node[anchor=west, inner sep=0pt, font=\fontsize{8.6}{10}\selectfont] at (256bp,287bp) {unM};
\node[anchor=west, inner sep=0pt, font=\fontsize{10.5}{12}\selectfont] at (642.3bp,377bp) {Classification};
\legkey{643.5}{356}{cRed}{4}
\legkey{643.5}{336.7}{cOlive}{4}
\legkey{643.5}{318.3}{cGreen}{4}
\legkey{643.5}{299.3}{cCyan}{4}
\legkey{643.5}{281}{cBlue}{4}
\legkey{643.5}{262}{cPink}{4}
\node[anchor=west, inner sep=0pt, font=\fontsize{9.3}{11}\selectfont] at (665bp,356bp) {gbM-gbM};
\node[anchor=west, inner sep=0pt, font=\fontsize{9.3}{11}\selectfont] at (665bp,336.7bp) {gbM-teM};
\node[anchor=west, inner sep=0pt, font=\fontsize{9.3}{11}\selectfont] at (665bp,318.3bp) {gbM-unM};
\node[anchor=west, inner sep=0pt, font=\fontsize{9.3}{11}\selectfont] at (665bp,299.3bp) {teM-teM};
\node[anchor=west, inner sep=0pt, font=\fontsize{9.3}{11}\selectfont] at (665bp,281bp) {unM-teM};
\node[anchor=west, inner sep=0pt, font=\fontsize{9.3}{11}\selectfont] at (665bp,262bp) {unM-unM};
\node[font=\bfseries\fontsize{13.5}{15}\selectfont] at (8bp,418.5bp) {A};
\node[font=\bfseries\fontsize{13.5}{15}\selectfont] at (285bp,417bp) {B};
\node[font=\bfseries\fontsize{13.5}{15}\selectfont] at (10bp,178.5bp) {C};
\node[font=\bfseries\fontsize{13.5}{15}\selectfont] at (267.5bp,179bp) {D};
\node[font=\bfseries\fontsize{13.5}{15}\selectfont] at (512.5bp,179.5bp) {E};
\end{tikzpicture}
\end{document}
